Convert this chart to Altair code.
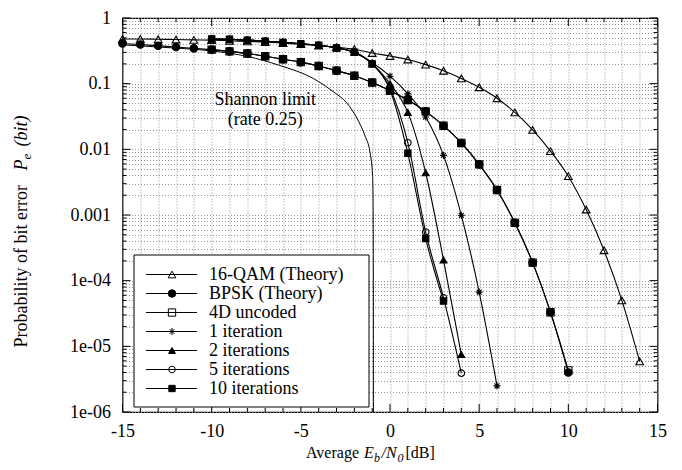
import altair as alt
import pandas as pd

FONT = "Liberation Serif"
W, H = 535, 394

# ---------------- data ----------------
names = ["16-QAM (Theory)", "BPSK (Theory)", "4D uncoded", "1 iteration",
         "2 iterations", "5 iterations", "10 iterations"]

qam_snr = list(range(-15, 15))
qam_ber = [0.48, 0.48, 0.475, 0.47, 0.465, 0.46, 0.45, 0.44, 0.43, 0.415,
           0.40, 0.38, 0.36, 0.335, 0.293, 0.264, 0.233, 0.195, 0.157, 0.12,
           0.088, 0.06, 0.0365, 0.0198, 0.0094, 0.0039, 0.00121, 2.9e-4, 5.0e-5, 5.9e-6]

bpsk_snr = list(range(-15, 11))
bpsk_ber = [0.41, 0.395, 0.378, 0.362, 0.345, 0.33, 0.31, 0.288, 0.262, 0.236,
            0.213, 0.186, 0.158, 0.132, 0.104, 0.078, 0.0565, 0.0378, 0.0229, 0.0125,
            0.0059, 0.0024, 7.6e-4, 1.88e-4, 3.3e-5, 4.0e-6]

u4d_snr = list(range(-10, 11))
u4d_ber = [0.33, 0.31, 0.288, 0.262, 0.236, 0.213, 0.186, 0.158, 0.132, 0.104,
           0.078, 0.0565, 0.0378, 0.0229, 0.0125, 0.0059, 0.0024, 7.6e-4, 1.88e-4,
           3.3e-5, 4.3e-6]

it1_snr = list(range(-10, 7))
it1_ber = [0.48, 0.475, 0.46, 0.445, 0.425, 0.405, 0.385, 0.352, 0.305, 0.21,
           0.13, 0.07, 0.031, 0.0081, 9.9e-4, 6.7e-5, 2.5e-6]

it2_snr = list(range(-10, 5))
it2_ber = [0.48, 0.475, 0.46, 0.445, 0.425, 0.405, 0.385, 0.35, 0.30, 0.20,
           0.10, 0.0365, 0.0044, 2.07e-4, 7.5e-6]

it5_snr = list(range(-10, 5))
it5_ber = [0.48, 0.475, 0.46, 0.445, 0.425, 0.405, 0.385, 0.35, 0.30, 0.20,
           0.085, 0.0126, 5.5e-4, 5.5e-5, 3.9e-6]

it10_snr = list(range(-10, 4))
it10_ber = [0.48, 0.475, 0.46, 0.445, 0.425, 0.405, 0.385, 0.35, 0.30, 0.20,
            0.08, 0.0087, 4.4e-4, 4.9e-5]

shannon_snr = [-15, -12.5, -10, -8, -6.2, -4.3, -3.2, -2.4, -1.86, -1.4,
               -1.12, -0.98, -0.95, -0.935, -0.93]
shannon_ber = [0.39, 0.355, 0.315, 0.26, 0.19, 0.12, 0.076, 0.05, 0.03, 0.016,
               0.009, 0.004, 0.0016, 1e-4, 1e-6]

x_ticks = list(range(-15, 16))
y_decades = [1, 0.1, 0.01, 0.001, 0.0001, 0.00001, 0.000001]
y_minor = [m * 10.0 ** k for k in range(-6, 0) for m in range(2, 10)]

# ---------------- tables ----------------
series = [(names[0], qam_snr, qam_ber), (names[1], bpsk_snr, bpsk_ber),
          (names[2], u4d_snr, u4d_ber), (names[3], it1_snr, it1_ber),
          (names[4], it2_snr, it2_ber), (names[5], it5_snr, it5_ber),
          (names[6], it10_snr, it10_ber)]
rows = []
for n, xs, ys in series:
    for a, b in zip(xs, ys):
        rows.append({"series": n, "snr": a, "ber": b})
df = pd.DataFrame(rows)
shannon = pd.DataFrame({"snr": shannon_snr, "ber": shannon_ber})

ASTER = "M-1,0L1,0M0,-1L0,1M-0.7,-0.7L0.7,0.7M-0.7,0.7L0.7,-0.7"
shape_scale = alt.Scale(domain=names, range=["triangle-up", "circle", "square", ASTER,
                                             "triangle-up", "circle", "square"])
fill_scale = alt.Scale(domain=names, range=["transparent", "black", "transparent",
                                            "transparent", "black", "transparent", "black"])
size_scale = alt.Scale(domain=names, range=[60, 40, 55, 50, 22, 40, 70])

xs_scale = alt.Scale(domain=[-15, 15], nice=False, zero=False)
ys_scale = alt.Scale(type="log", domain=[1e-6, 1], nice=False)

label_expr_y = ("datum.value == 1 ? '1' : datum.value == 0.1 ? '0.1' : datum.value == 0.01 ? '0.01' : "
                "datum.value == 0.001 ? '0.001' : datum.value == 0.0001 ? '1e-04' : "
                "datum.value == 0.00001 ? '1e-05' : datum.value == 0.000001 ? '1e-06' : ''")

x_axis = alt.Axis(values=x_ticks, title=None, grid=True, ticks=False, domain=False,
                  labelExpr="datum.value % 5 == 0 ? '' + datum.value : ''",
                  labelFlush=False, labelOverlap=False, labelPadding=10)
y_axis = alt.Axis(values=y_decades + y_minor, title=None, grid=True, ticks=False, domain=False,
                  labelExpr=label_expr_y, labelFlush=False, labelOverlap=False, labelPadding=12)


def X(field="snr"):
    return alt.X(f"{field}:Q", scale=xs_scale, axis=x_axis)


def Y(field="ber"):
    return alt.Y(f"{field}:Q", scale=ys_scale, axis=y_axis)


shape_enc = alt.Shape("series:N", scale=shape_scale, legend=None)
fill_enc = alt.Fill("series:N", scale=fill_scale, legend=None)
size_enc = alt.Size("series:N", scale=size_scale, legend=None)

lines = alt.Chart(df).mark_line(color="black", strokeWidth=1.1, interpolate="monotone",
                                clip=True).encode(x=X(), y=Y(), detail="series:N")
points = alt.Chart(df).mark_point(filled=True, stroke="black", strokeWidth=1.1, opacity=1).encode(
    x=X(), y=Y(), shape=shape_enc, fill=fill_enc, size=size_enc)
shan = alt.Chart(shannon).mark_line(color="black", strokeWidth=1, interpolate="monotone",
                                    clip=True).encode(x=X(), y=Y())

# ticks (inward, mirrored)
xt = pd.DataFrame({"snr": x_ticks, "major": [t % 5 == 0 for t in x_ticks]})
yt = pd.DataFrame({"ber": y_decades + y_minor,
                   "major": [True] * len(y_decades) + [False] * len(y_minor)})
tick_layers = []
for major, ln in [(True, 8), (False, 4)]:
    xd = xt[xt.major == major]
    yd = yt[yt.major == major]
    tick_layers.append(alt.Chart(xd).mark_rule(color="black", strokeWidth=1).encode(
        x=X(), y=alt.value(H), y2=alt.value(H - ln)))
    tick_layers.append(alt.Chart(xd).mark_rule(color="black", strokeWidth=1).encode(
        x=X(), y=alt.value(0), y2=alt.value(ln)))
    tick_layers.append(alt.Chart(yd).mark_rule(color="black", strokeWidth=1).encode(
        y=Y(), x=alt.value(0), x2=alt.value(ln)))
    tick_layers.append(alt.Chart(yd).mark_rule(color="black", strokeWidth=1).encode(
        y=Y(), x=alt.value(W), x2=alt.value(W - ln)))

# legend (box + rows); row positions converted to data coordinates
dummy = pd.DataFrame({"a": [0]})
leg_rows = []
for i, n in enumerate(names):
    py = 256.5 + 19 * i
    leg_rows.append({"series": n, "ber": 10 ** (-py / (H / 6.0))})
leg = pd.DataFrame(leg_rows)
leg_box = alt.Chart(dummy).mark_rect(fill="white", stroke="black", strokeWidth=1).encode(
    x=alt.value(11.5), x2=alt.value(246.5), y=alt.value(237), y2=alt.value(389))
leg_line = alt.Chart(leg).mark_rule(color="black", strokeWidth=1).encode(
    x=alt.value(23.5), x2=alt.value(74.5), y=Y())
leg_pts = alt.Chart(leg).mark_point(filled=True, stroke="black", strokeWidth=1, opacity=1).encode(
    x=alt.value(49.5), y=Y(), shape=shape_enc, fill=fill_enc, size=size_enc)
leg_txt = alt.Chart(leg).mark_text(align="left", baseline="middle", font=FONT, fontSize=18,
                                   color="black").encode(x=alt.value(86.5), y=Y(), text="series:N")

# annotation
ann = pd.DataFrame({"snr": [-7.0, -7.0], "ber": [0.0566, 0.0283],
                    "label": ["Shannon limit", "(rate 0.25)"]})
ann_txt = alt.Chart(ann).mark_text(font=FONT, fontSize=18, color="black", baseline="middle").encode(
    x=X(), y=Y(), text="label:N")


def txt(s, x, y, size=18, italic=False, angle=0, baseline="alphabetic"):
    return alt.Chart(dummy).mark_text(text=s, font=FONT, fontSize=size,
                                      fontStyle="italic" if italic else "normal",
                                      angle=angle, align="left", baseline=baseline,
                                      color="black").encode(x=alt.value(x), y=alt.value(y))


# axis titles made of pieces (for italics and subscripts)
xt_y = 439.5
x_title = [txt("Average", 183.5, xt_y, size=16), txt("E", 241.5, xt_y, size=16, italic=True),
           txt("b", 251.5, xt_y + 4, size=12, italic=True), txt("/N", 259, xt_y, size=16, italic=True),
           txt("0", 275, xt_y + 4, size=12, italic=True), txt("[dB]", 283, xt_y, size=16)]
yx = -100.5
y_title = [txt("Probability of bit error", yx, 329.5, angle=270, baseline="middle"),
           txt("P", yx, 152.5, angle=270, baseline="middle", italic=True),
           txt("e", yx + 5, 141.5, size=13, angle=270, baseline="middle", italic=True),
           txt("(bit)", yx, 128.5, angle=270, baseline="middle", italic=True)]

chart = alt.layer(lines, shan, points, *tick_layers, ann_txt, leg_box, leg_line, leg_pts, leg_txt,
                  *x_title, *y_title).properties(
    width=W, height=H,
    autosize=alt.AutoSizeParams(type="none"),
    padding={"left": 114.5, "top": 10, "right": 16.5, "bottom": 56},
).configure_view(stroke="black", strokeWidth=1.2).configure_axis(
    labelFont=FONT, labelFontSize=18, labelColor="black",
    gridColor="#888", gridDash=[1, 2], gridWidth=1, gridOpacity=0.9)

chart.save("out.html", embed_options={"renderer": "svg", "actions": False})
